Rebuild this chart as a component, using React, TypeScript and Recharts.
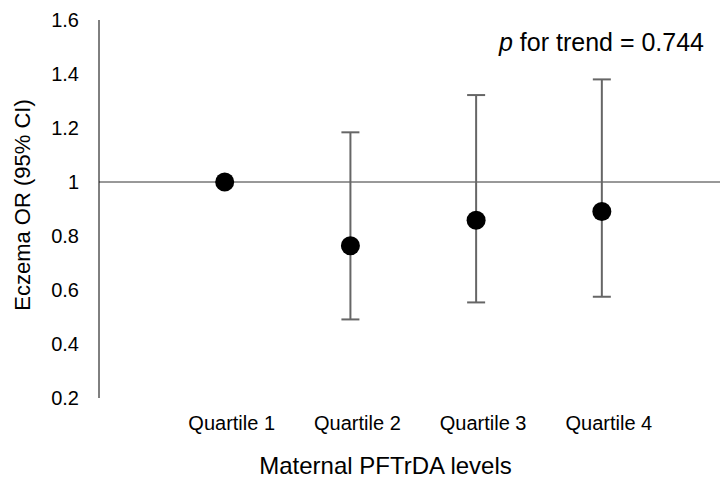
import { ComposedChart, Scatter, XAxis, YAxis, ErrorBar, ReferenceLine, Label } from "recharts"

const categories = ["Quartile 1", "Quartile 2", "Quartile 3", "Quartile 4"]
const oddsRatios = [1.0, 0.764, 0.858, 0.891]
const ciLower = [1.0, 0.491, 0.554, 0.575]
const ciUpper = [1.0, 1.184, 1.322, 1.38]
const yTicks = [0.2, 0.4, 0.6, 0.8, 1, 1.2, 1.4, 1.6]
const xTicks = [1, 2, 3, 4]
const pTrend = "0.744"

const data = categories.map((name, i) => ({
  x: i + 1,
  name,
  or: oddsRatios[i],
  err: [oddsRatios[i] - ciLower[i], ciUpper[i] - oddsRatios[i]],
}))

const font = "'Liberation Sans', Arial, sans-serif"

function Dot(props: any) {
  return <circle cx={props.cx} cy={props.cy} r={9.5} fill="#000" />
}

export default function App() {
  return (
    <div style={{ position: "absolute", left: 0, top: 0, fontFamily: font }}>
      <ComposedChart width={720} height={482} data={data} margin={{ top: 20, right: 0, bottom: 0, left: 0 }}>
        <XAxis
          type="number"
          dataKey="x"
          domain={[0, 4.94]}
          ticks={xTicks}
          interval={0}
          tickFormatter={(v) => categories[v - 1]}
          axisLine={false}
          tickLine={false}
          height={84}
          tickMargin={12}
          tick={{ fontSize: 20, fill: "#000", dx: 7 }}
        >
          <Label
            value="Maternal PFTrDA levels"
            position="insideBottom"
            offset={8}
            dx={-24}
            style={{ fontSize: 24, fill: "#000" }}
          />
        </XAxis>
        <YAxis
          type="number"
          domain={[0.2, 1.6]}
          ticks={yTicks}
          width={99}
          axisLine={{ stroke: "#000" }}
          tickLine={false}
          tickMargin={14}
          tick={{ fontSize: 20, fill: "#000" }}
        >
          <Label
            value="Eczema OR (95% CI)"
            angle={-90}
            position="center"
            dx={-27}
            dy={-4}
            style={{ fontSize: 22, fill: "#000" }}
          />
        </YAxis>
        <ReferenceLine y={1} stroke="#333" strokeWidth={1} />
        <Scatter dataKey="or" fill="#000" shape={Dot} isAnimationActive={false}>
          <ErrorBar dataKey="err" direction="y" width={9} stroke="#666" strokeWidth={2} />
        </Scatter>
        <text x={704} y={51} textAnchor="end" fontSize={25} fill="#000">
          <tspan fontStyle="italic">p</tspan>
          {" for trend = " + pTrend}
        </text>
      </ComposedChart>
    </div>
  )
}
